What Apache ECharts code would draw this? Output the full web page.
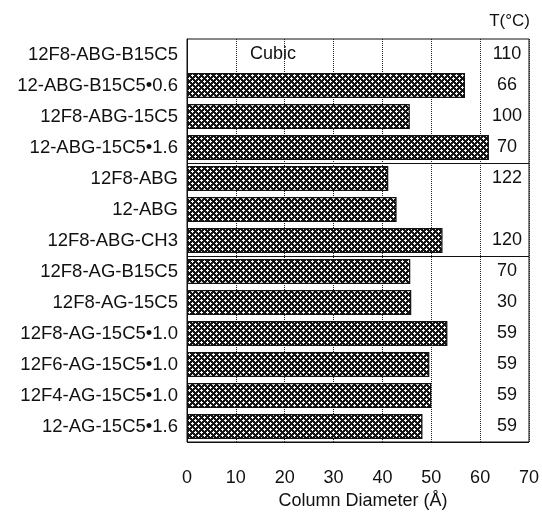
<!DOCTYPE html>
<html>
<head>
<meta charset="utf-8">
<script src="https://cdn.jsdelivr.net/npm/echarts@6/dist/echarts.min.js"></script>
<style>
  html, body { margin: 0; padding: 0; background: #fff; }
  #main { width: 542px; height: 518px; }
</style>
</head>
<body>
<div id="main"></div>
<script>
// 柱状数据（直径 Å），第一行为 Cubic，没有柱子
var categories = [
  '12F8-ABG-B15C5', '12-ABG-B15C5•0.6', '12F8-ABG-15C5', '12-ABG-15C5•1.6',
  '12F8-ABG', '12-ABG', '12F8-ABG-CH3',
  '12F8-AG-B15C5', '12F8-AG-15C5', '12F8-AG-15C5•1.0', '12F6-AG-15C5•1.0',
  '12F4-AG-15C5•1.0', '12-AG-15C5•1.6'
];
var diameters = ['-', 56.9, 45.6, 61.8, 41.2, 42.9, 52.3, 45.7, 45.9, 53.3, 49.6, 50.0, 48.2];
var temps = ['110', '66', '100', '70', '122', '', '120', '70', '30', '59', '59', '59', '59'];
var xTicks = [0, 10, 20, 30, 40, 50, 60, 70];
var cubicAt = [17.6, categories[0]];
var groupBreaks = [4, 7]; // 分组横线所在的刻度

var font = 'Liberation Sans, Arial, Helvetica, sans-serif';

// 交叉斜线填充，留白色菱形小点
function hatch() {
  var c = document.createElement('canvas');
  c.width = 6; c.height = 6;
  var ctx = c.getContext('2d');
  ctx.fillStyle = '#fff';
  ctx.fillRect(0, 0, 6, 6);
  ctx.fillStyle = '#151515';
  for (var x = 0; x < 6; x++) {
    for (var y = 0; y < 6; y++) {
      var a = (x + y) % 6, b = (x - y + 6) % 6;
      if (!(a >= 2 && a <= 4 && b >= 2 && b <= 4)) ctx.fillRect(x, y, 1, 1);
    }
  }
  return c;
}

var myChart = echarts.init(document.getElementById('main'));
myChart.setOption({
  animation: false,
  title: {
    text: 'T(°C)',
    right: 7,
    top: 8,
    textStyle: { fontFamily: font, fontSize: 17, fontWeight: 'normal', color: '#111' }
  },
  grid: {
    left: 187, right: 12, top: 39, bottom: 76,
    show: true, borderColor: '#111', borderWidth: 1
  },
  xAxis: {
    type: 'value',
    min: xTicks[0],
    max: xTicks[xTicks.length - 1],
    interval: 10,
    name: 'Column Diameter (Å)',
    nameLocation: 'middle',
    nameGap: 48,
    nameTextStyle: { fontFamily: font, fontSize: 18, color: '#111', padding: [0, 0, 0, 10] },
    axisLine: { show: false },
    axisTick: { show: false },
    axisLabel: { fontFamily: font, fontSize: 18, color: '#111', margin: 27 },
    splitLine: { show: true, lineStyle: { color: '#222', type: 'dotted', width: 1 } }
  },
  yAxis: [{
    type: 'category',
    inverse: true,
    data: categories,
    axisLine: { show: true, lineStyle: { color: '#111' } },
    axisTick: { show: false },
    axisLabel: { fontFamily: font, fontSize: 18.5, color: '#111', margin: 9 },
    splitLine: {
      show: true,
      interval: function (i) { return groupBreaks.indexOf(i) >= 0; },
      lineStyle: { color: '#111', width: 1, type: 'solid' }
    }
  }, {
    type: 'category',
    inverse: true,
    position: 'right',
    data: temps,
    axisLine: { show: false },
    axisTick: { show: false },
    axisLabel: { inside: true, align: 'center', margin: 22, fontFamily: font, fontSize: 18, color: '#111' }
  }],
  series: [{
    name: 'diameter',
    type: 'bar',
    barCategoryGap: '19%',
    data: diameters,
    itemStyle: {
      color: { image: hatch(), repeat: 'repeat' },
      borderColor: '#111',
      borderWidth: 1.2
    },
    markPoint: {
      symbol: 'rect',
      symbolSize: 1,
      silent: true,
      itemStyle: { color: 'rgba(0,0,0,0)' },
      label: { show: true, position: 'inside', formatter: 'Cubic', fontFamily: font, fontSize: 18, color: '#111' },
      data: [{ coord: cubicAt }]
    }
  }]
});
</script>
</body>
</html>
